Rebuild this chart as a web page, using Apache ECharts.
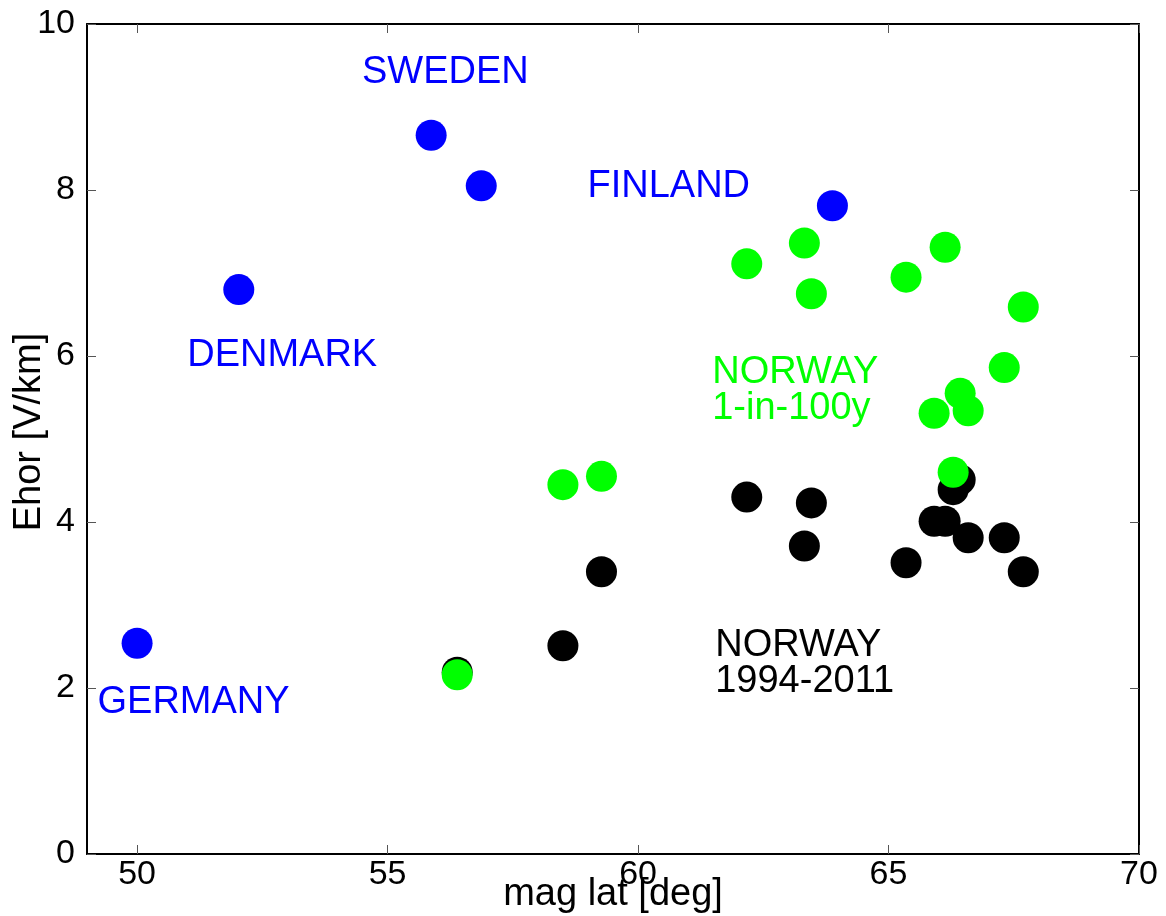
<!DOCTYPE html>
<html>
<head>
<meta charset="utf-8">
<script src="https://cdn.jsdelivr.net/npm/echarts@6/dist/echarts.min.js"></script>
<style>
  html, body { margin: 0; padding: 0; background: #fff; }
  #chart { width: 1166px; height: 916px; }
</style>
</head>
<body>
<div id="chart"></div>
<script>
// ---- data ----
const xTicks = [50, 55, 60, 65, 70];
const yTicks = [0, 2, 4, 6, 8, 10];
const xTitle = 'mag lat [deg]';
const yTitle = 'Ehor [V/km]';

const blueLat = [50.0, 52.03, 55.87, 56.87, 63.88];
const blueE   = [2.54, 6.80, 8.66, 8.05, 7.81];

const norwayLat = [56.39, 58.50, 59.27, 62.17, 63.32, 63.46, 65.35, 65.91, 66.13, 66.29, 66.43, 66.59, 67.31, 67.69];
const norwayObsE  = [2.19, 2.51, 3.40, 4.30, 3.71, 4.23, 3.51, 4.01, 4.01, 4.39, 4.51, 3.81, 3.81, 3.40];
const norway100yE = [2.16, 4.45, 4.55, 7.11, 7.36, 6.75, 6.95, 5.31, 7.31, 4.60, 5.55, 5.34, 5.86, 6.59];

const labelText  = ['SWEDEN', 'FINLAND', 'DENMARK', 'GERMANY', 'NORWAY\n1-in-100y', 'NORWAY\n1994-2011'];
const labelX     = [54.48, 58.98, 50.99, 49.20, 61.47, 61.53];
const labelY     = [9.42, 8.04, 6.01, 1.83, 5.58, 2.30];
const labelColor = ['#0000ff', '#0000ff', '#0000ff', '#0000ff', '#00ff00', '#000000'];

// ---- chart ----
const FONT = "'Liberation Sans', Arial, Helvetica, sans-serif";
const zip = (a, b) => a.map((v, i) => [v, b[i]]);

const chart = echarts.init(document.getElementById('chart'), null, { renderer: 'canvas' });

const baseX = {
  type: 'value', min: 49, max: 70,
  axisLine: { show: true, onZero: false, lineStyle: { color: '#000', width: 2 } },
  axisTick: { show: true, inside: true, length: 9, customValues: xTicks, lineStyle: { color: '#555', width: 1 } },
  splitLine: { show: false }
};
const baseY = {
  type: 'value', min: 0, max: 10, interval: 2,
  axisLine: { show: true, onZero: false, lineStyle: { color: '#000', width: 2 } },
  axisTick: { show: true, inside: true, length: 9, lineStyle: { color: '#555', width: 1 } },
  splitLine: { show: false }
};

const textSeries = labelText.map((t, i) => ({
  type: 'scatter',
  xAxisIndex: 0, yAxisIndex: 0,
  data: [[labelX[i], labelY[i]]],
  symbol: 'circle',
  symbolSize: 1,
  itemStyle: { color: 'rgba(0,0,0,0)', opacity: 1 },
  z: 10,
  silent: true,
  label: {
    show: true,
    position: 'right',
    distance: 0,
    formatter: t,
    color: labelColor[i],
    opacity: 1,
    fontFamily: FONT,
    fontSize: 38,
    lineHeight: 36,
    align: 'left',
    verticalAlign: 'middle'
  },
  labelLayout: { hideOverlap: false }
}));

chart.setOption({
  animation: false,
  backgroundColor: '#fff',
  grid: { left: 87, right: 27, top: 24, bottom: 62, containLabel: false, outerBoundsMode: 'none' },
  graphic: [
    {
      type: 'text', x: 613, y: 895, silent: true,
      style: { text: xTitle, fill: '#000', font: "38px " + FONT, textAlign: 'center', textVerticalAlign: 'middle' }
    },
    {
      type: 'text', x: 30, y: 432, rotation: Math.PI / 2, silent: true,
      style: { text: yTitle, fill: '#000', font: "38px " + FONT, textAlign: 'center', textVerticalAlign: 'middle' }
    }
  ],
  xAxis: [
    Object.assign({}, baseX, {
      position: 'bottom',
      axisLabel: { show: true, customValues: xTicks, color: '#000', fontFamily: FONT, fontSize: 34, margin: 4 }
    }),
    Object.assign({}, baseX, {
      position: 'top',
      axisLabel: { show: false }
    })
  ],
  yAxis: [
    Object.assign({}, baseY, {
      position: 'left',
      axisLabel: { show: true, color: '#000', fontFamily: FONT, fontSize: 34, margin: 12 }
    }),
    Object.assign({}, baseY, {
      position: 'right',
      axisLabel: { show: false }
    })
  ],
  series: [
    {
      type: 'scatter', name: 'Other countries',
      data: zip(blueLat, blueE),
      symbol: 'circle', symbolSize: 31,
      itemStyle: { color: '#0000ff', opacity: 1 }
    },
    {
      type: 'scatter', name: 'Norway 1994-2011',
      data: zip(norwayLat, norwayObsE),
      symbol: 'circle', symbolSize: 31,
      itemStyle: { color: '#000000', opacity: 1 }
    },
    {
      type: 'scatter', name: 'Norway 1-in-100y',
      data: zip(norwayLat, norway100yE),
      symbol: 'circle', symbolSize: 31,
      itemStyle: { color: '#00ff00', opacity: 1 }
    }
  ].concat(textSeries)
});
</script>
</body>
</html>
